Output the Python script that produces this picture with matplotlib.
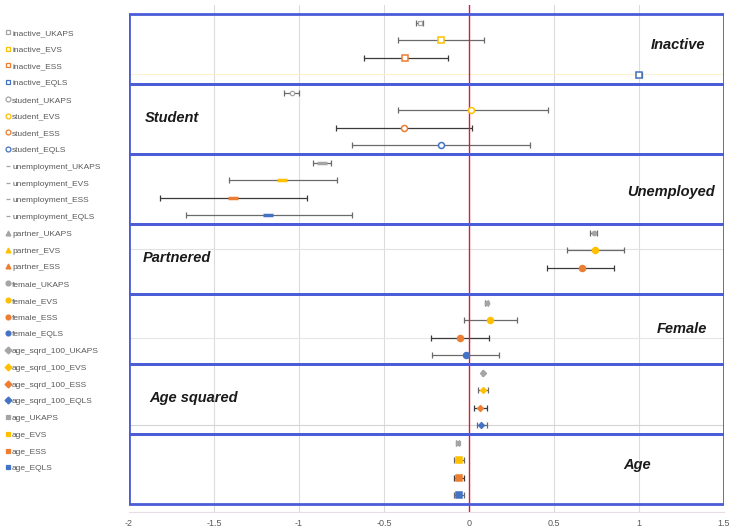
import numpy as np
import matplotlib
matplotlib.use("Agg")
import matplotlib.pyplot as plt
from matplotlib.patches import Rectangle
from matplotlib.lines import Line2D

plt.rcParams['font.family'] = ['Liberation Sans', 'DejaVu Sans']

# coefficient estimates with lower / upper bounds, one row per survey
surveys = ['UKAPS', 'EVS', 'ESS', 'EQLS']
groups = ['inactive', 'student', 'unemployment', 'partner', 'female', 'age_sqrd_100', 'age']
titles = ['Inactive', 'Student', 'Unemployed', 'Partnered', 'Female', 'Age squared', 'Age']

est = {
    'inactive':     [-0.29, -0.163, -0.374, 1.00],
    'student':      [-1.04, 0.013, -0.385, -0.163],
    'unemployment': [-0.863, -1.10, -1.39, -1.18],
    'partner':      [0.734, 0.74, 0.663, np.nan],
    'female':       [0.104, 0.121, -0.055, -0.02],
    'age_sqrd_100': [0.08, 0.08, 0.063, 0.068],
    'age':          [-0.067, -0.06, -0.06, -0.06],
}
lo = {
    'inactive':     [-0.31, -0.42, -0.62, 0.98],
    'student':      [-1.087, -0.42, -0.78, -0.69],
    'unemployment': [-0.916, -1.41, -1.82, -1.664],
    'partner':      [0.714, 0.575, 0.457, np.nan],
    'female':       [0.095, -0.032, -0.226, -0.22],
    'age_sqrd_100': [0.075, 0.05, 0.027, 0.045],
    'age':          [-0.075, -0.09, -0.09, -0.09],
}
hi = {
    'inactive':     [-0.27, 0.086, -0.122, 1.02],
    'student':      [-0.998, 0.467, 0.02, 0.357],
    'unemployment': [-0.81, -0.774, -0.953, -0.688],
    'partner':      [0.754, 0.911, 0.852, np.nan],
    'female':       [0.113, 0.28, 0.115, 0.174],
    'age_sqrd_100': [0.085, 0.11, 0.104, 0.104],
    'age':          [-0.059, -0.03, -0.03, -0.03],
}

colors = ['#a5a5a5', '#ffc000', '#ed7d31', '#4472c4']
# (plot marker, legend marker, filled)
markers = {
    'inactive': ('s', 's', False), 'student': ('o', 'o', False),
    'unemployment': ('_', '_', True), 'partner': ('o', '^', True),
    'female': ('o', 'o', True), 'age_sqrd_100': ('D', 'D', True),
    'age': ('s', 's', True),
}
title_pos = [(1.23, 1.77, 'center'), (-1.905, 5.94, 'left'), (1.19, 10.2, 'center'),
             (-1.92, 13.94, 'left'), (1.25, 18.0, 'center'), (-1.88, 21.94, 'left'),
             (0.99, 25.8, 'center')]

fig = plt.figure(figsize=(7.32, 5.28), dpi=100)
ax = fig.add_axes([129 / 732, 16 / 528, 595 / 732, 507 / 528])
ax.set_xlim(-2, 1.5)
ax.set_ylim(28.46, -0.51)

for xv in [-1.5, -1, -0.5, 0.5, 1]:
    ax.axvline(xv, color='#dcdcdc', lw=0.8, zorder=0)
# faint lines left over from the source sheet
ax.axhline(3.43, color='#fdf1cf', lw=0.8, zorder=0)
ax.axhline(13.43, color='#e2e2e2', lw=0.8, zorder=0)
ax.axhline(18.5, color='#e6e6e6', lw=0.8, zorder=0)
ax.axhline(23.5, color='#d4d4d4', lw=0.8, zorder=0)
ax.axvline(0, color='#d81c3c', lw=1.0, zorder=3)

handles = []
labels = []
for g_i, g in enumerate(groups):
    mk, leg_mk, filled = markers[g]
    for s_i, s in enumerate(surveys):
        e = est[g][s_i]
        if np.isnan(e):
            continue
        y = g_i * 4 + s_i + 0.5
        c = colors[s_i]
        ecol = '#3a3a3a' if s_i == 2 else '#6a6a6a'
        ax.errorbar(e, y, xerr=[[e - lo[g][s_i]], [hi[g][s_i] - e]], fmt='none',
                    ecolor=ecol, elinewidth=0.9, capsize=2.2, capthick=0.9, zorder=2)
        face = c if filled else '#ffffff'
        if mk == '_':
            ms, mew = 7, 2.5
        elif s_i == 0:
            ms, mew = 3.2, 0.9
        elif mk == 'D':
            ms, mew = 3.2, 0.8
        else:
            ms, mew = 4.3, 1.1
        ax.plot([e], [y], marker=mk, ms=ms, mfc=face, mec=c, mew=mew,
                ls='none', zorder=4)
        handles.append(Line2D([], [], marker=leg_mk, ms=3.5, mfc=face,
                              mec=c if leg_mk != '_' else '#a5a5a5',
                              mew=0.9, ls='none'))
        labels.append(f'{g}_{s}')
    ax.add_patch(Rectangle((-2, g_i * 4), 3.5, 4, fill=False, ec='#4a5cd8', lw=2, zorder=5))
    tx, ty, ha = title_pos[g_i]
    ax.text(tx, ty, titles[g_i], ha=ha, va='center', fontsize=10.5,
            fontweight='bold', fontstyle='italic', color='#1a1a1a', zorder=6)

for sp in ['top', 'left', 'right']:
    ax.spines[sp].set_visible(False)
ax.spines['bottom'].set_color('#e9dbe6')
ax.spines['bottom'].set_linewidth(0.8)
ax.set_yticks([])
ax.set_xticks([-2, -1.5, -1, -0.5, 0, 0.5, 1, 1.5])
ax.set_xticklabels(['-2', '-1.5', '-1', '-0.5', '0', '0.5', '1', '1.5'])
ax.tick_params(axis='x', length=0, labelsize=6.5, labelcolor='#595959', pad=5)

fig.legend(handles, labels, loc='upper left', bbox_to_anchor=(5 / 732, 1 - 29 / 528),
           frameon=False, fontsize=6, labelcolor='#595959', handlelength=0.6,
           handletextpad=0.25, labelspacing=1.07, borderpad=0, borderaxespad=0)

fig.savefig('out.png', dpi=100)
